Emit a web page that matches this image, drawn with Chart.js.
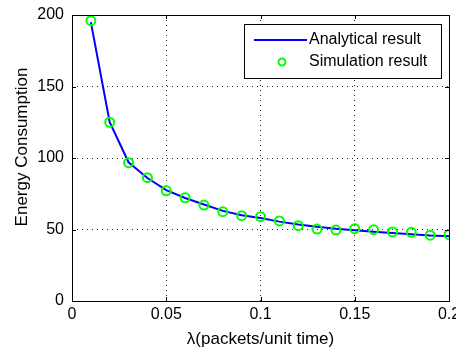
<!DOCTYPE html>
<html>
<head>
<meta charset="utf-8">
<script src="https://cdn.jsdelivr.net/npm/chart.js@4"></script>
<style>
html, body { margin: 0; padding: 0; background: #fff; }
</style>
</head>
<body>
<canvas id="chart" width="456" height="351"></canvas>
<script>
// --- datos ---
const lambdas = [0.01, 0.02, 0.03, 0.04, 0.05, 0.06, 0.07, 0.08, 0.09, 0.10,
                 0.11, 0.12, 0.13, 0.14, 0.15, 0.16, 0.17, 0.18, 0.19, 0.20];
const analytical = [195, 125, 97, 86, 77.5, 72, 67.5, 63, 60, 58,
                    55.5, 53.5, 52, 50.5, 49.5, 48.5, 47.5, 46.7, 45.8, 45.2];
const simulation = [196, 125, 96.7, 86.2, 77.1, 72.2, 67.1, 62.5, 59.7, 59,
                    56, 52.7, 50.3, 49.6, 50.6, 49.9, 48.3, 48, 46, 46.4];
const xTicks = [0, 0.05, 0.1, 0.15, 0.2];
const yTicks = [0, 50, 100, 150, 200];

const FONT = "'Liberation Sans', Arial, sans-serif";

// marco del eje con marcas hacia dentro (estilo MATLAB), título Y y leyenda
const framePlugin = {
    id: 'frame',
    afterDraw(chart) {
        const { ctx, chartArea: a, scales } = chart;
        ctx.save();
        ctx.strokeStyle = '#000';
        ctx.lineWidth = 1;
        ctx.strokeRect(Math.round(a.left) + 0.5, Math.round(a.top) + 0.5,
                       Math.round(a.right - a.left), Math.round(a.bottom - a.top));
        ctx.beginPath();
        xTicks.forEach(v => {
            const x = Math.round(scales.x.getPixelForValue(v)) + 0.5;
            ctx.moveTo(x, a.bottom); ctx.lineTo(x, a.bottom - 4);
            ctx.moveTo(x, a.top); ctx.lineTo(x, a.top + 4);
        });
        yTicks.forEach(v => {
            const y = Math.round(scales.y.getPixelForValue(v)) + 0.5;
            ctx.moveTo(a.left, y); ctx.lineTo(a.left + 4, y);
            ctx.moveTo(a.right, y); ctx.lineTo(a.right - 4, y);
        });
        ctx.stroke();

        // título del eje Y
        ctx.save();
        ctx.translate(22, 147);
        ctx.rotate(-Math.PI / 2);
        ctx.fillStyle = '#000';
        ctx.font = '17px ' + FONT;
        ctx.textAlign = 'center';
        ctx.textBaseline = 'middle';
        ctx.fillText('Energy Consumption', 0, 0);
        ctx.restore();

        // leyenda
        const bx = 244.5, by = 24.5, bw = 197, bh = 54;
        ctx.fillStyle = '#fff';
        ctx.fillRect(bx, by, bw, bh);
        ctx.strokeRect(bx, by, bw, bh);
        ctx.strokeStyle = '#0000ff';
        ctx.lineWidth = 2;
        ctx.beginPath();
        ctx.moveTo(254, 40); ctx.lineTo(307, 40);
        ctx.stroke();
        ctx.strokeStyle = '#00ff00';
        ctx.beginPath();
        ctx.arc(282, 62, 3.5, 0, Math.PI * 2);
        ctx.stroke();
        ctx.fillStyle = '#000';
        ctx.font = '16px ' + FONT;
        ctx.textBaseline = 'middle';
        ctx.textAlign = 'left';
        ctx.fillText('Analytical result', 309, 40);
        ctx.fillText('Simulation result', 309, 62);
        ctx.restore();
    }
};

const ctx = document.getElementById('chart').getContext('2d');

new Chart(ctx, {
    type: 'scatter',
    data: {
        datasets: [
            {
                label: 'Analytical result',
                data: lambdas.map((x, i) => ({ x: x, y: analytical[i] })),
                showLine: true,
                borderColor: '#0000ff',
                borderWidth: 2,
                pointRadius: 0,
                fill: false,
                order: 2
            },
            {
                label: 'Simulation result',
                data: lambdas.map((x, i) => ({ x: x, y: simulation[i] })),
                showLine: false,
                borderColor: '#00ff00',
                backgroundColor: 'rgba(0,0,0,0)',
                pointRadius: 4.5,
                pointBorderWidth: 2,
                order: 1
            }
        ]
    },
    options: {
        responsive: false,
        animation: false,
        devicePixelRatio: 1,
        layout: { padding: { left: 0, top: 15, right: 7, bottom: 0 } },
        plugins: {
            legend: { display: false },
            tooltip: { enabled: false }
        },
        scales: {
            x: {
                type: 'linear',
                min: 0,
                max: 0.2,
                afterBuildTicks: s => { s.ticks = xTicks.map(v => ({ value: v })); },
                afterFit: s => { s.height = 50; s.paddingLeft = 0; s.paddingRight = 0; },
                grid: { color: '#222', lineWidth: 1, drawTicks: false },
                border: { display: false, dash: [1, 4] },
                ticks: {
                    color: '#000',
                    padding: 4,
                    maxRotation: 0,
                    font: { family: FONT, size: 16 },
                    callback: v => String(v)
                },
                title: {
                    display: true,
                    text: 'λ(packets/unit time)',
                    color: '#000',
                    padding: 1,
                    font: { family: FONT, size: 17 }
                }
            },
            y: {
                min: 0,
                max: 200,
                afterBuildTicks: s => { s.ticks = yTicks.map(v => ({ value: v })); },
                afterFit: s => { s.width = 72; s.paddingTop = 0; s.paddingBottom = 0; },
                grid: { color: '#222', lineWidth: 1, drawTicks: false },
                border: { display: false, dash: [1, 4] },
                ticks: {
                    color: '#000',
                    padding: 8,
                    font: { family: FONT, size: 16 }
                },
                title: { display: false }
            }
        }
    },
    plugins: [framePlugin]
});
</script>
</body>
</html>
